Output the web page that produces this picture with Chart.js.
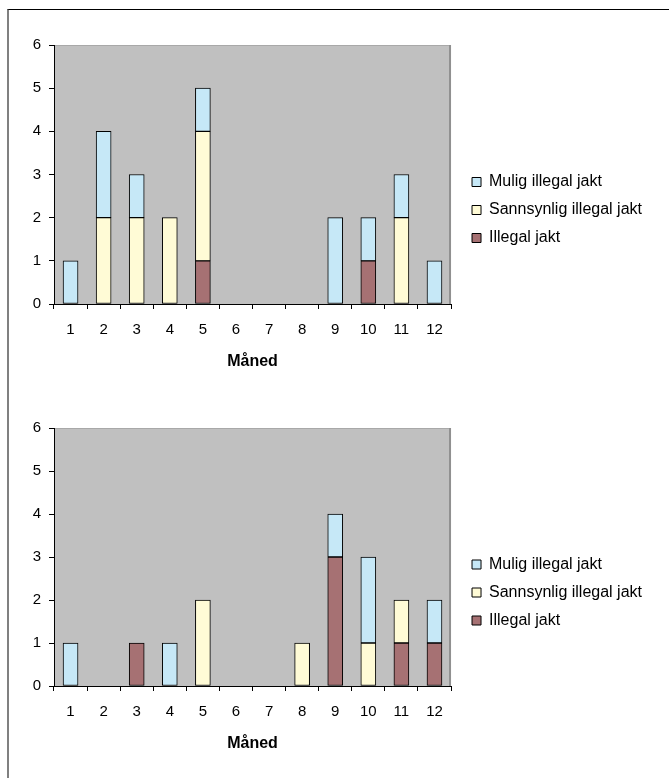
<!DOCTYPE html>
<html lang="no">
<head>
<meta charset="UTF-8" />
<title>Jakt per måned</title>
<script src="https://cdn.jsdelivr.net/npm/chart.js"></script>
<style>
  html, body { margin: 0; padding: 0; background: #fff; overflow: hidden; }
  body { width: 669px; height: 778px; position: relative; }
  #frame {
    position: absolute; left: 7px; top: 9px; width: 700px; height: 800px;
    border-top: 1px solid #000; border-left: 2px solid #808080;
  }
  .box { position: absolute; left: 0; width: 669px; }
  #box1 { top: 0; height: 383px; }
  #box2 { top: 383px; height: 395px; }
</style>
</head>
<body>
<div id="frame"></div>
<div class="box" id="box1"><canvas id="chart1"></canvas></div>
<div class="box" id="box2"><canvas id="chart2"></canvas></div>

<script>
const months = ["1", "2", "3", "4", "5", "6", "7", "8", "9", "10", "11", "12"];

// first chart
const illegal1     = [0, 0, 0, 0, 1, 0, 0, 0, 0, 1, 0, 0];
const sannsynlig1  = [0, 2, 2, 2, 3, 0, 0, 0, 0, 0, 2, 0];
const mulig1       = [1, 2, 1, 0, 1, 0, 0, 0, 2, 1, 1, 1];

// second chart
const illegal2     = [0, 0, 1, 0, 0, 0, 0, 0, 3, 0, 1, 1];
const sannsynlig2  = [0, 0, 0, 0, 2, 0, 0, 1, 0, 1, 1, 0];
const mulig2       = [1, 0, 0, 1, 0, 0, 0, 0, 1, 2, 0, 1];

const yTicks = [0, 1, 2, 3, 4, 5, 6];

const FONT = "'Liberation Sans', Arial, sans-serif";

// grey plot background with light top/right edge
const plotBg = {
  id: "plotBg",
  beforeDraw(chart) {
    const { ctx, chartArea: a } = chart;
    ctx.save();
    ctx.fillStyle = "#c0c0c0";
    ctx.fillRect(a.left, a.top, a.right - a.left, a.bottom - a.top);
    ctx.lineWidth = 1;
    ctx.strokeStyle = "#a8a8a8";
    ctx.beginPath();
    ctx.moveTo(a.left, a.top + 0.5);
    ctx.lineTo(a.right, a.top + 0.5);
    ctx.stroke();
    ctx.strokeStyle = "#909090";
    ctx.lineWidth = 2;
    ctx.beginPath();
    ctx.moveTo(a.right - 1, a.top);
    ctx.lineTo(a.right - 1, a.bottom);
    ctx.stroke();
    ctx.restore();
  }
};

// push the legend a bit away from the plot
const legendGap = {
  id: "legendGap",
  afterLayout(chart) {
    const l = chart.legend;
    if (l) { l.left += 9; l.right += 9; }
  }
};

function ds(label, data, color) {
  return {
    label: label,
    // empty months get no bar at all
    data: data.map((v) => (v === 0 ? null : v)),
    backgroundColor: color,
    borderColor: "#000",
    borderWidth: 1,
    borderSkipped: false,
    barThickness: 15
  };
}

function makeChart(id, illegal, sannsynlig, mulig, padBottom) {
  return new Chart(document.getElementById(id), {
    type: "bar",
    data: {
      labels: months,
      datasets: [
        ds("Illegal jakt", illegal, "#a67173"),
        ds("Sannsynlig illegal jakt", sannsynlig, "#fffbd6"),
        ds("Mulig illegal jakt", mulig, "#c6e8f7")
      ]
    },
    options: {
      responsive: true,
      maintainAspectRatio: false,
      animation: false,
      layout: { padding: { top: 45, left: 0, right: 26, bottom: padBottom } },
      plugins: {
        tooltip: { enabled: false },
        legend: {
          position: "right",
          reverse: true,
          maxWidth: 300,
          labels: {
            boxWidth: 9,
            boxHeight: 9,
            padding: 12,
            color: "#000",
            font: { family: FONT, size: 16 }
          }
        }
      },
      scales: {
        x: {
          stacked: true,
          afterFit: (s) => { s.height = 71; },
          grid: {
            drawOnChartArea: false,
            drawTicks: true,
            tickLength: 5,
            color: "#000",
            offset: true
          },
          border: { color: "#000", width: 1 },
          ticks: {
            color: "#000",
            padding: 12,
            maxRotation: 0,
            font: { family: FONT, size: 15 }
          },
          title: {
            display: true,
            text: "Måned",
            color: "#000",
            font: { family: FONT, size: 16, weight: "bold" },
            padding: { top: 4, bottom: 4 }
          }
        },
        y: {
          stacked: true,
          min: 0,
          max: 6,
          afterFit: (s) => { s.width = 54; },
          afterBuildTicks: (s) => { s.ticks = yTicks.map((v) => ({ value: v })); },
          grid: {
            drawOnChartArea: false,
            drawTicks: true,
            tickLength: 5,
            color: "#000"
          },
          border: { color: "#000", width: 1 },
          ticks: {
            color: "#000",
            padding: 8,
            font: { family: FONT, size: 15 }
          }
        }
      }
    },
    plugins: [plotBg, legendGap]
  });
}

makeChart("chart1", illegal1, sannsynlig1, mulig1, 8);
makeChart("chart2", illegal2, sannsynlig2, mulig2, 21);
</script>
</body>
</html>
